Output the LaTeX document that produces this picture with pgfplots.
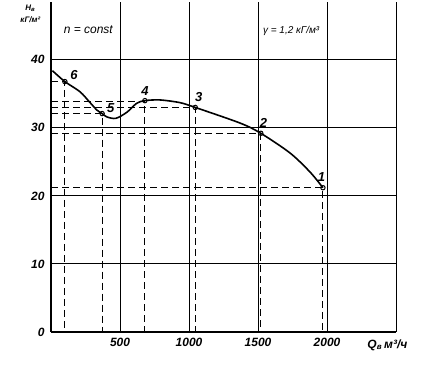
\documentclass[border=0pt]{standalone}
\usepackage{fontspec}
\setmainfont{Liberation Sans}
\usepackage{pgfplots}
\pgfplotsset{compat=1.18}
\begin{document}
\begin{tikzpicture}
\begin{axis}[
  scale only axis, width=345pt, height=330pt,
  xmin=0, xmax=2500, ymin=0, ymax=48.5,
  axis x line*=bottom, axis y line*=left,
  axis line style={line width=1.3pt, -},
  xtick={500,1000,1500,2000,2500},
  xticklabels={500,1000,1500,2000,{}},
  ytick={0,10,20,30,40},
  yticklabels={0,10,20,30,40},
  major tick length=0pt,
  tick label style={font=\itshape\bfseries\fontsize{12}{14}\selectfont},
  xticklabel style={yshift=-3pt},
  yticklabel style={xshift=-3pt},
  grid=major,
  grid style={black, line width=1pt},
  clip=false,
]
% dashed projection lines
\addplot[black, line width=1pt, dash pattern=on 7pt off 4pt] coordinates {(0,36.8) (100,36.8) (100,0)};
\addplot[black, line width=1pt, dash pattern=on 7pt off 4pt] coordinates {(0,32.1) (370,32.1) (370,0)};
\addplot[black, line width=1pt, dash pattern=on 7pt off 4pt] coordinates {(0,33.9) (680,33.9) (680,0)};
\addplot[black, line width=1pt, dash pattern=on 7pt off 4pt] coordinates {(0,33.0) (1045,33.0) (1045,0)};
\addplot[black, line width=1pt, dash pattern=on 7pt off 4pt] coordinates {(0,29.1) (1520,29.1) (1520,0)};
\addplot[black, line width=1pt, dash pattern=on 7pt off 4pt] coordinates {(0,21.2) (1970,21.2) (1970,0)};
% characteristic curve
\addplot[black, line width=1.6pt, smooth, tension=0.5] coordinates {
  (10,38.4) (100,36.8) (210,35.3) (283,33.7) (333,32.6) (370,32.1)
  (405,31.6) (470,31.4) (550,32.3) (620,33.6) (680,34.0) (790,34.1)
  (935,33.7) (1045,33.0) (1370,30.7) (1520,29.2) (1732,26.3)
  (1877,23.5) (1970,21.2)
};
% points
\addplot[only marks, mark=o, mark size=2.2pt, black, mark options={line width=1pt, fill=white}] coordinates {
  (100,36.8) (370,32.1) (680,34.0) (1045,33.0) (1520,29.2) (1970,21.2)
};
\node[font=\itshape\bfseries\fontsize{13}{15}\selectfont, anchor=west] at (axis cs:115,37.8) {6};
\node[font=\itshape\bfseries\fontsize{13}{15}\selectfont, anchor=west] at (axis cs:380,32.9) {5};
\node[font=\itshape\bfseries\fontsize{13}{15}\selectfont, anchor=south] at (axis cs:680,34.3) {4};
\node[font=\itshape\bfseries\fontsize{13}{15}\selectfont, anchor=south] at (axis cs:1070,33.3) {3};
\node[font=\itshape\bfseries\fontsize{13}{15}\selectfont, anchor=south] at (axis cs:1540,29.5) {2};
\node[font=\itshape\bfseries\fontsize{13}{15}\selectfont, anchor=south] at (axis cs:1960,21.6) {1};
% texts
\node[font=\itshape\fontsize{12}{14}\selectfont] at (axis cs:270,44.4) {n = const};
\node[font=\itshape\fontsize{10}{12}\selectfont] at (axis cs:1740,44.2) {γ = 1,2 кГ/м³};
\node[font=\itshape\bfseries\fontsize{8}{10}\selectfont] at (rel axis cs:-0.06,0.982) {H\textsubscript{в}};
\node[font=\itshape\bfseries\fontsize{8}{10}\selectfont] at (rel axis cs:-0.06,0.945) {кГ/м²};
\node[font=\itshape\bfseries\fontsize{12}{14}\selectfont, anchor=north] at (rel axis cs:0.975,-0.012) {Q\textsubscript{в}\,м³/ч};
\path (rel axis cs:-0.148,-0.1) (rel axis cs:1.11,1.006);
\end{axis}
\end{tikzpicture}
\end{document}
